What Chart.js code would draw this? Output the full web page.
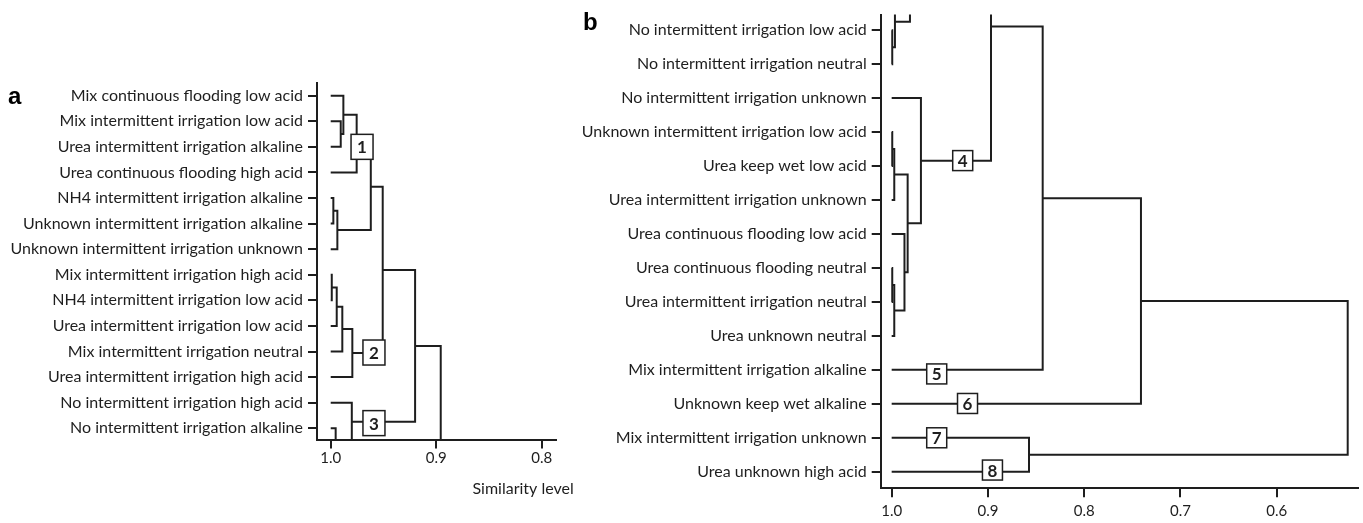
<!DOCTYPE html>
<html>
<head>
<meta charset="utf-8">
<title>Similarity dendrograms</title>
<script src="https://cdn.jsdelivr.net/npm/chart.js@4/dist/chart.umd.min.js"></script>
<style>
  html, body { margin: 0; padding: 0; background: #fff; }
  #wrap { position: relative; width: 1363px; height: 523px; overflow: hidden; }
  #chart-a { position: absolute; left: 0; top: 0; width: 580px; height: 523px; }
  #chart-b { position: absolute; left: 580px; top: 0; width: 783px; height: 523px; }
</style>
</head>
<body>
<div id="wrap">
  <canvas id="chart-a" width="580" height="523"></canvas>
  <canvas id="chart-b" width="783" height="523"></canvas>
</div>
<script>
/* ---------- panel a ---------- */
var leavesA = [
  'Mix continuous flooding low acid',
  'Mix intermittent irrigation low acid',
  'Urea intermittent irrigation alkaline',
  'Urea continuous flooding high acid',
  'NH4 intermittent irrigation alkaline',
  'Unknown intermittent irrigation alkaline',
  'Unknown intermittent irrigation unknown',
  'Mix intermittent irrigation high acid',
  'NH4 intermittent irrigation low acid',
  'Urea intermittent irrigation low acid',
  'Mix intermittent irrigation neutral',
  'Urea intermittent irrigation high acid',
  'No intermittent irrigation high acid',
  'No intermittent irrigation alkaline'
];
// merges: [child, child, similarity]; a number is a leaf row, 'm3' is merge #3.
// rows 14 and 18 sit below the printed crop (the tree is cut off there)
var mergesA = [
  [1, 2, 0.9905],
  [0, 'm0', 0.988],
  ['m1', 3, 0.9754],
  [4, 5, 0.9975],
  ['m3', 6, 0.9937],
  ['m2', 'm4', 0.962],
  [7, 8, 0.999],
  ['m6', 9, 0.9943],
  ['m7', 10, 0.989],
  ['m8', 11, 0.9795],
  ['m5', 'm9', 0.9507],
  [13, 14, 0.9953],
  [12, 'm11', 0.980],
  ['m10', 'm12', 0.920],
  ['m13', 18, 0.8957]
];
var boxesA = [['1', 0.9703, 2.0], ['2', 0.959, 10.04], ['3', 0.959, 12.8]];
var ticksA = [1.0, 0.9, 0.8];

/* ---------- panel b ---------- */
var leavesB = [
  'No intermittent irrigation low acid',
  'No intermittent irrigation neutral',
  'No intermittent irrigation unknown',
  'Unknown intermittent irrigation low acid',
  'Urea keep wet low acid',
  'Urea intermittent irrigation unknown',
  'Urea continuous flooding low acid',
  'Urea continuous flooding neutral',
  'Urea intermittent irrigation neutral',
  'Urea unknown neutral',
  'Mix intermittent irrigation alkaline',
  'Unknown keep wet alkaline',
  'Mix intermittent irrigation unknown',
  'Urea unknown high acid'
];
// rows -1, -2, -7 sit above the printed crop
var mergesB = [
  [0, 1, 0.9994],
  [-1, 'm0', 0.9966],
  [-2, 'm1', 0.981],
  [-7, 'm2', 0.95],
  [3, 4, 0.9994],
  ['m4', 5, 0.9973],
  [7, 8, 0.9994],
  ['m6', 9, 0.9973],
  [6, 'm7', 0.9867],
  ['m5', 'm8', 0.9834],
  [2, 'm9', 0.9696],
  ['m3', 'm10', 0.8968],
  ['m11', 10, 0.8431],
  ['m12', 11, 0.741],
  [12, 13, 0.8573],
  ['m13', 'm14', 0.5262]
];
var boxesB = [['4', 0.9262, 3.84], ['5', 0.9532, 10.12], ['6', 0.9212, 10.99], ['7', 0.9532, 12.0], ['8', 0.8953, 12.95]];
var ticksB = [1.0, 0.9, 0.8, 0.7, 0.6];

(function () {
  'use strict';

  var INK = '#1e1e1e';
  var FONT = 'Lato, "Open Sans", sans-serif';

  /* each merge becomes one bracket polyline: child A -> level -> child B */
  function bracketSets(merges) {
    var nodes = [];
    function pos(ref) {
      if (typeof ref === 'string') { return nodes[+ref.slice(1)]; }
      return { x: 1.0, y: ref };
    }
    return merges.map(function (m) {
      var a = pos(m[0]), b = pos(m[1]);
      nodes.push({ x: m[2], y: (a.y + b.y) / 2 });
      return {
        data: [{ x: a.x, y: a.y }, { x: m[2], y: a.y }, { x: m[2], y: b.y }, { x: b.x, y: b.y }],
        borderColor: INK, borderWidth: 2, pointRadius: 0, showLine: true, fill: false,
        tension: 0, borderJoinStyle: 'miter'
      };
    });
  }

  /* numbered cluster boxes + loose text (panel letter, axis title) */
  var extras = {
    id: 'extras',
    afterDraw: function (chart) {
      var o = chart.options.plugins.extras;
      var ctx = chart.ctx, xs = chart.scales.x, ys = chart.scales.y;
      ctx.save();
      o.boxes.forEach(function (b) {
        var cx = xs.getPixelForValue(b[1]), cy = ys.getPixelForValue(b[2]);
        var w = o.boxW, h = o.boxH;
        ctx.fillStyle = '#fff';
        ctx.fillRect(cx - w / 2, cy - h / 2, w, h);
        ctx.strokeStyle = INK;
        ctx.lineWidth = 1.5;
        ctx.strokeRect(cx - w / 2, cy - h / 2, w, h);
        ctx.fillStyle = INK;
        ctx.font = 'bold 17px ' + FONT;
        ctx.textAlign = 'center';
        ctx.textBaseline = 'middle';
        ctx.fillText(b[0], cx, cy + 1);
      });
      ctx.fillStyle = '#000';
      ctx.font = 'bold 24px "Liberation Sans", Arial, sans-serif';
      ctx.textAlign = 'left';
      ctx.textBaseline = 'alphabetic';
      ctx.fillText(o.letter[0], o.letter[1], o.letter[2]);
      if (o.title) {
        ctx.fillStyle = INK;
        ctx.font = '16px ' + FONT;
        ctx.textAlign = 'right';
        ctx.textBaseline = 'middle';
        ctx.fillText(o.title, chart.chartArea.right + 18, chart.chartArea.bottom + 49);
      }
      ctx.restore();
    }
  };

  function build(id, cfg) {
    new Chart(document.getElementById(id), {
      type: 'scatter',
      data: { datasets: bracketSets(cfg.merges) },
      options: {
        responsive: false,
        animation: false,
        events: [],
        layout: { padding: cfg.padding },
        plugins: {
          legend: { display: false },
          tooltip: { enabled: false },
          extras: cfg.extras
        },
        scales: {
          x: {
            type: 'linear', reverse: true, min: cfg.xMin, max: cfg.xMax,
            afterBuildTicks: function (s) { s.ticks = cfg.ticks.map(function (v) { return { value: v }; }); },
            afterFit: function (s) { s.height = cfg.xHeight; },
            ticks: {
              color: INK, font: { family: FONT, size: 15 }, padding: cfg.xPad, maxRotation: 0,
              callback: function (v) { return v.toFixed(1); }
            },
            grid: { drawOnChartArea: false, tickLength: 9, color: INK, lineWidth: 2 },
            border: { color: INK, width: 2 }
          },
          y: {
            type: 'linear', reverse: true, min: cfg.yMin, max: cfg.yMax,
            afterBuildTicks: function (s) { s.ticks = cfg.leaves.map(function (_, i) { return { value: i }; }); },
            afterFit: function (s) { s.width = cfg.yWidth; },
            ticks: {
              color: INK, font: { family: FONT, size: 16 }, padding: 5, autoSkip: false,
              callback: function (v) { return cfg.leaves[v]; }
            },
            grid: { drawOnChartArea: false, tickLength: 9, color: INK, lineWidth: 2 },
            border: { color: INK, width: 2 }
          }
        }
      },
      plugins: [extras]
    });
  }

  build('chart-a', {
    leaves: leavesA, merges: mergesA, ticks: ticksA,
    xMin: 0.7867, xMax: 1.013, yMin: -0.496, yMax: 13.44,
    yWidth: 317, xHeight: 40, xPad: 1,
    padding: { left: 0, top: 83, right: 24.3, bottom: 43.5 },
    extras: { boxes: boxesA, boxW: 22, boxH: 25, letter: ['a', 8, 104], title: 'Similarity level' }
  });

  build('chart-b', {
    leaves: leavesB, merges: mergesB, ticks: ticksB,
    xMin: 0.5155, xMax: 1.0114, yMin: -0.458, yMax: 13.487,
    yWidth: 300.7, xHeight: 30, xPad: 5,
    padding: { left: 0, top: 10, right: 5, bottom: 4.7 },
    extras: { boxes: boxesB, boxW: 20, boxH: 20, letter: ['b', 3, 30] }
  });
})();
</script>
</body>
</html>
